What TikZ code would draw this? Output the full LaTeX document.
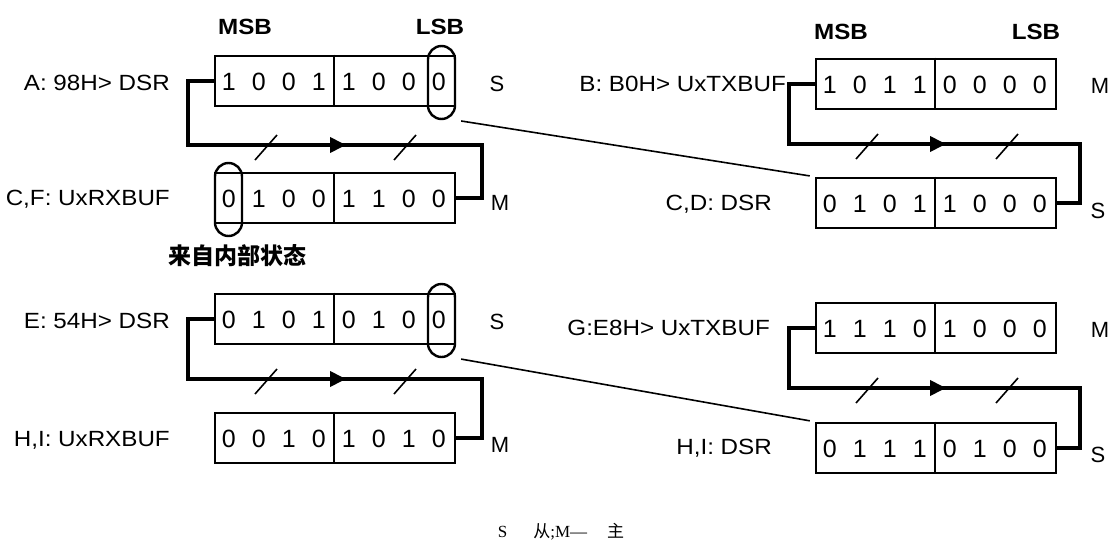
\documentclass[tikz,border=0pt]{standalone}
\usepackage{fontspec}
\setmainfont{Liberation Sans}
\newfontfamily\widesans[FakeStretch=1.1]{Liberation Sans}
\newfontfamily\cjk{Noto Sans CJK SC}
\newfontfamily\capserif{Liberation Serif}
\usetikzlibrary{calc,arrows.meta}
\newcommand\putbits[2]{%
  \foreach \b [count=\i from 0] in {#2} {%
    \node[bit] (#1-\i) at ($(#1.west)+(15+30*\i,1)$) {\b};}%
  \draw[divline] ($(#1.north west)+(120,0)$) -- ($(#1.south west)+(120,0)$);}
\begin{document}
\begin{tikzpicture}[x=1pt,y=-1pt,
  reg/.style={draw, line width=2.6pt, minimum width=240pt, minimum height=50pt, inner sep=0pt},
  oval/.style={draw, line width=2.4pt, rounded corners=13.5pt, minimum width=27pt, minimum height=73pt, inner sep=0pt},
  bit/.style={font=\fontsize{25}{25}\selectfont, inner sep=0pt},
  divline/.style={line width=2.4pt},
  lbl/.style={font=\widesans\fontsize{22}{22}\selectfont, inner sep=0pt, anchor=east},
  sidelbl/.style={font=\fontsize{22}{22}\selectfont, inner sep=0pt},
  hdr/.style={font=\widesans\bfseries\fontsize{22}{22}\selectfont, inner sep=0pt},
  loopline/.style={line width=3.8pt},
  slash/.style={line width=1.6pt},
  xfer/.style={line width=1.6pt, shorten <=5pt, shorten >=5pt},
  midarrow/.style={-{Triangle[length=16pt,width=15pt]}}]
\fill[white] (0,0) rectangle (1114,544);
\useasboundingbox (0,0) rectangle (1114,544);

% ---------- headers ----------
\node[hdr] (msbL) at (245,27) {MSB};
\node[hdr] (lsbL) at (440,27) {LSB};
\node[hdr] (msbR) at (841,32) {MSB};
\node[hdr] (lsbR) at (1036,32) {LSB};

% ---------- left column registers ----------
\node[reg] (A) at (335,81) {};
\node[reg] (C) at (335,198) {};
\node[reg] (E) at (335,319) {};
\node[reg] (H) at (335,438) {};
\putbits{A}{1,0,0,1,1,0,0,0}
\putbits{C}{0,1,0,0,1,1,0,0}
\putbits{E}{0,1,0,1,0,1,0,0}
\putbits{H}{0,0,1,0,1,0,1,0}
\node[oval] (oA) at (441.5,82.5) {};
\node[oval] (oC) at (228.5,199.5) {};
\node[oval] (oE) at (441.5,320.5) {};

% ---------- right column registers ----------
\node[reg] (B) at (936,84) {};
\node[reg] (D) at (936,203) {};
\node[reg] (G) at (936,328) {};
\node[reg] (I) at (936,448) {};
\putbits{B}{1,0,1,1,0,0,0,0}
\putbits{D}{0,1,0,1,1,0,0,0}
\putbits{G}{1,1,1,0,1,0,0,0}
\putbits{I}{0,1,1,1,0,1,0,0}

% ---------- labels ----------
\node[lbl] (lA) at (170,83) {A: 98H> DSR};
\node[lbl] (lC) at (170,199) {C,F: UxRXBUF};
\node[lbl] (lE) at (170,321) {E: 54H> DSR};
\node[lbl] (lH) at (170,440) {H,I: UxRXBUF};
\node[lbl] (lB) at (786,84) {B: B0H> UxTXBUF};
\node[lbl] (lD) at (772,204) {C,D: DSR};
\node[lbl] (lG) at (770,328) {G:E8H> UxTXBUF};
\node[lbl] (lI) at (772,448) {H,I: DSR};

\node[sidelbl] (sA) at (497,84) {S};
\node[sidelbl] (mC) at (500,203) {M};
\node[sidelbl] (sE) at (497,322) {S};
\node[sidelbl] (mH) at (500,445) {M};
\node[sidelbl] (mB) at (1100,86) {M};
\node[sidelbl] (sD) at (1098,211) {S};
\node[sidelbl] (mG) at (1100,330) {M};
\node[sidelbl] (sI) at (1098,455) {S};

\node[font=\cjk\bfseries\fontsize{23}{23}\selectfont, inner sep=0pt] (note) at (237,256) {来自内部状态};

\node[inner sep=0pt, font=\fontsize{17}{17}\selectfont] (cap) at (561,532)
  {{\capserif S}\hspace{26pt}{\cjk 从}{\capserif ;M—}\hspace{20pt}{\cjk 主}};

% ---------- loops ----------
\coordinate (aL) at (188,145); \coordinate (aR) at (482,145); \coordinate (aT) at (346,145);
\draw[loopline] (A.west) -| (aL) -- (aR) |- (C.east);
\draw[loopline, midarrow] (aL) -- (aT);
\draw[slash] (255,160) -- (277,135);
\draw[slash] (394,160) -- (416,135);

\coordinate (eL) at (188,379); \coordinate (eR) at (482,379); \coordinate (eT) at (346,379);
\draw[loopline] (E.west) -| (eL) -- (eR) |- (H.east);
\draw[loopline, midarrow] (eL) -- (eT);
\draw[slash] (255,394) -- (277,369);
\draw[slash] (394,394) -- (416,369);

\coordinate (bL) at (789,144); \coordinate (bR) at (1080,144); \coordinate (bT) at (946,144);
\draw[loopline] (B.west) -| (bL) -- (bR) |- (D.east);
\draw[loopline, midarrow] (bL) -- (bT);
\draw[slash] (856,159) -- (878,134);
\draw[slash] (996,159) -- (1018,134);

\coordinate (gL) at (789,388); \coordinate (gR) at (1080,388); \coordinate (gT) at (946,388);
\draw[loopline] (G.west) -| (gL) -- (gR) |- (I.east);
\draw[loopline, midarrow] (gL) -- (gT);
\draw[slash] (856,403) -- (878,378);
\draw[slash] (996,403) -- (1018,378);

% ---------- transfers ----------
\draw[xfer] (oA.south east) -- (D.north west);
\draw[xfer] (oE.south east) -- (I.north west);
\end{tikzpicture}
\end{document}
